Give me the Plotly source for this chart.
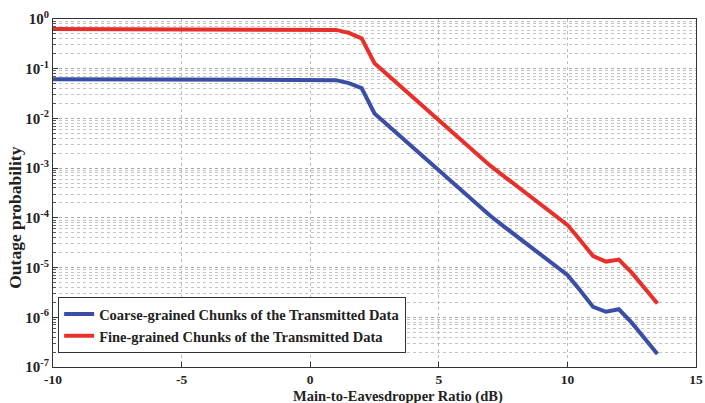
import plotly.graph_objects as go

# Main-to-Eavesdropper Ratio (dB)
x_db = [-10, 0.5, 1.0, 1.5, 2.0, 2.5, 3.0, 3.5, 4.0, 4.5, 5.0, 5.5, 6.0, 6.5, 7.0,
        7.5, 8.0, 8.5, 9.0, 9.5, 10.0, 10.5, 11.0, 11.5, 12.0, 12.5, 13.0, 13.5]

# Outage probability, fine-grained chunks (red)
fine = [0.631, 0.631, 0.603, 0.525, 0.407, 0.129, 0.0759, 0.0447, 0.0263, 0.0158,
        0.00933, 0.0055, 0.00324, 0.00186, 0.00112, 0.000708, 0.000447, 0.000282,
        0.000182, 0.000115, 7.24e-5, 3.55e-5, 1.70e-5, 1.32e-5, 1.45e-5, 7.9e-6,
        3.98e-6, 1.9e-6]

# Outage probability, coarse-grained chunks (blue)
coarse = [0.0617, 0.0617, 0.0589, 0.0513, 0.0407, 0.0126, 0.00741, 0.00437, 0.00257,
          0.00155, 0.000912, 0.000537, 0.000316, 0.000182, 0.00011, 6.9e-5, 4.37e-5,
          2.75e-5, 1.78e-5, 1.12e-5, 7.1e-6, 3.47e-6, 1.62e-6, 1.29e-6, 1.45e-6,
          7.8e-7, 3.9e-7, 1.82e-7]

series_names = ["Coarse-grained Chunks of the Transmitted Data",
                "Fine-grained Chunks of the Transmitted Data"]

y_tickvals = [1e0, 1e-1, 1e-2, 1e-3, 1e-4, 1e-5, 1e-6, 1e-7]
y_ticktext = ["10<sup>0</sup>", "10<sup>-1</sup>", "10<sup>-2</sup>", "10<sup>-3</sup>",
              "10<sup>-4</sup>", "10<sup>-5</sup>", "10<sup>-6</sup>", "10<sup>-7</sup>"]
x_tickvals = [-10, -5, 0, 5, 10, 15]
x_ticktext = ["-10", "-5", "0", "5", "10", "15"]

FONT = "Liberation Serif"
INK = "#222222"

fig = go.Figure()
fig.add_trace(go.Scatter(x=x_db, y=coarse, mode="lines", name=series_names[0],
                         line=dict(color="#3a4ea6", width=4)))
fig.add_trace(go.Scatter(x=x_db, y=fine, mode="lines", name=series_names[1],
                         line=dict(color="#e8302a", width=4)))

fig.update_layout(
    width=705, height=403,
    margin=dict(l=53, r=2, t=19, b=36),
    paper_bgcolor="white", plot_bgcolor="white",
    font=dict(family=FONT, size=13, color=INK, weight="bold"),
    showlegend=True,
    legend=dict(x=0.008, y=0.04, xanchor="left", yanchor="bottom",
                bgcolor="white", bordercolor="#333333", borderwidth=1,
                font=dict(family=FONT, size=14.5, color=INK, weight="bold"),
                tracegroupgap=0),
    annotations=[
        dict(text="Main-to-Eavesdropper Ratio (dB)", xref="paper", yref="paper",
             x=0.537, y=0, xanchor="center", yanchor="top", yshift=-19,
             showarrow=False,
             font=dict(family=FONT, size=14.5, color=INK, weight="bold")),
        dict(text="Outage probability", xref="paper", yref="paper",
             x=-0.0585, y=0.43, xanchor="center", yanchor="middle", textangle=-90,
             showarrow=False,
             font=dict(family=FONT, size=17.5, color=INK, weight="bold")),
    ],
)
fig.update_xaxes(
    range=[-10, 15], tickvals=x_tickvals, ticktext=x_ticktext,
    ticklabeloverflow="allow",
    showline=True, linecolor="#333333", linewidth=1, mirror=True,
    ticks="inside", ticklen=5, tickcolor="#333333",
    showgrid=True, gridcolor="#bbbbbb", griddash="dot", gridwidth=1,
    zeroline=False,
    tickfont=dict(family=FONT, size=13.5, color=INK, weight="bold"),
)
fig.update_yaxes(
    type="log", range=[-7, 0],
    tickvals=y_tickvals, ticktext=y_ticktext,
    showline=True, linecolor="#333333", linewidth=1, mirror=True,
    ticks="inside", ticklen=5, tickcolor="#333333",
    showgrid=True, gridcolor="#aaaaaa", griddash="dot", gridwidth=1,
    minor=dict(showgrid=True, gridcolor="#c4c4c4", griddash="dot", gridwidth=1,
               ticks="inside", ticklen=3, tickcolor="#555555",
               tickvals=[m * 10.0 ** e for e in range(-7, 0) for m in range(2, 10)]),
    zeroline=False,
    tickfont=dict(family=FONT, size=15, color=INK, weight="bold"),
)

fig.write_html("out.html")
